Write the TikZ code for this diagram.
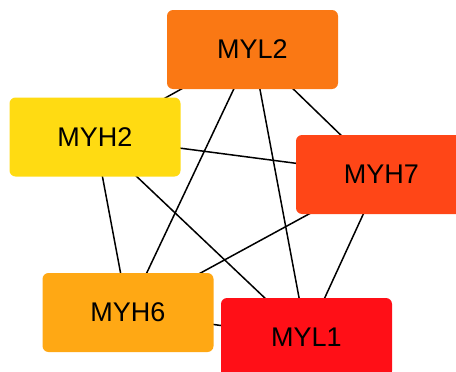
\documentclass[tikz,border=0pt]{standalone}
\usepackage{fontspec}
\setmainfont{Liberation Sans}
\definecolor{cMYLtwo}{HTML}{FA7814}
\definecolor{cMYHtwo}{HTML}{FFDB12}
\definecolor{cMYHseven}{HTML}{FF4617}
\definecolor{cMYHsix}{HTML}{FFA814}
\definecolor{cMYLone}{HTML}{FF0F17}
\begin{document}
\begin{tikzpicture}[x=1pt,y=-1pt,
  gene/.style={rounded corners=6pt, minimum width=171pt, minimum height=79pt, inner sep=0pt, font=\fontsize{27}{31}\selectfont, text=black},
  edge/.style={draw=black, line width=1.5pt}]
\useasboundingbox (0,0) rectangle (456,372);
\clip (0,0) rectangle (456,372);
\coordinate (pMYL2) at (252.5,49.5);
\coordinate (pMYH2) at (95,137);
\coordinate (pMYH7) at (381.5,174.5);
\coordinate (pMYH6) at (128,312.5);
\coordinate (pMYL1) at (306.5,337.5);
\draw[edge] (pMYL2) -- (pMYH2);
\draw[edge] (pMYL2) -- (pMYH6);
\draw[edge] (pMYL2) -- (pMYL1);
\draw[edge] (pMYL2) -- (pMYH7);
\draw[edge] (pMYH2) -- (pMYH7);
\draw[edge] (pMYH2) -- (pMYH6);
\draw[edge] (pMYH2) -- (pMYL1);
\draw[edge] (pMYH7) -- (pMYH6);
\draw[edge] (pMYH7) -- (pMYL1);
\draw[edge] (pMYH6) -- (pMYL1);
\node[gene, fill=cMYLtwo] (MYL2) at (pMYL2) {MYL2};
\node[gene, fill=cMYHtwo] (MYH2) at (pMYH2) {MYH2};
\node[gene, fill=cMYHseven] (MYH7) at (pMYH7) {MYH7};
\node[gene, fill=cMYHsix] (MYH6) at (pMYH6) {MYH6};
\node[gene, fill=cMYLone] (MYL1) at (pMYL1) {MYL1};
\end{tikzpicture}
\end{document}
